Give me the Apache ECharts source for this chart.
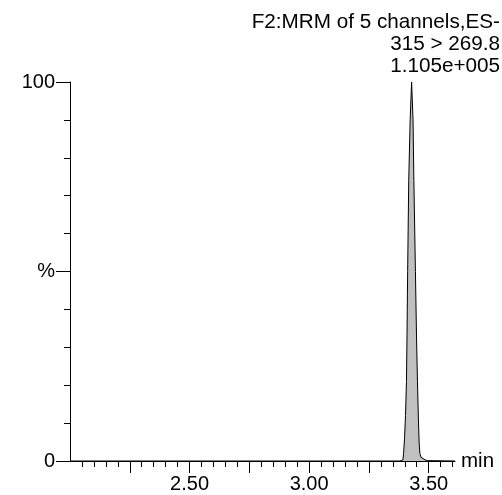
<!DOCTYPE html>
<html>
<head>
<meta charset="utf-8">
<script src="https://cdn.jsdelivr.net/npm/echarts@6/dist/echarts.min.js"></script>
<style>
html,body{margin:0;padding:0;background:#fff;}
#c{width:502px;height:495px;}
</style>
</head>
<body>
<div id="c"></div>
<script>
// Data (retention time in min, relative intensity in %)
var times = [2.00, 3.380, 3.392, 3.395, 3.399, 3.403, 3.407, 3.4095, 3.412, 3.4165, 3.4225, 3.4285, 3.4345, 3.438, 3.4445, 3.449, 3.453, 3.457, 3.460, 3.463, 3.468, 3.475, 3.485, 3.496, 3.500, 3.61];
var intensity = [0, 0, 0.3, 2, 6, 12, 21, 34, 50, 74, 90, 100, 90, 74, 50, 33, 21, 11, 5, 2, 1, 0.5, 0.3, 0.1, 0, 0];

var headerLines = ['F2:MRM of 5 channels,ES-', '315 > 269.8', '1.105e+005'];

var xMajorTicks = [2.25, 2.50, 2.75, 3.00, 3.25, 3.50];
var xLabelValues = [2.50, 3.00, 3.50];
var xMinorTicks = [2.05, 2.10, 2.15, 2.20, 2.30, 2.35, 2.40, 2.45, 2.55, 2.60, 2.65, 2.70, 2.80, 2.85, 2.90, 2.95, 3.05, 3.10, 3.15, 3.20, 3.30, 3.35, 3.40, 3.45, 3.55, 3.60];
var yMajorTicks = [0, 50, 100];
var yLabelTexts = ['0', '%', '100'];
var yMinorTicks = [10, 20, 30, 40, 60, 70, 80, 90];

var X_MIN = 2.0, X_MAX = 3.61;
var FONT = 'Liberation Sans';

var chart = echarts.init(document.getElementById('c'));
var black = '#000';

var option = {
  animation: false,
  backgroundColor: '#fff',
  grid: { left: 70, right: 47, top: 82, bottom: 34, containLabel: false, outerBoundsMode: 'none' },
  graphic: [{
    type: 'text',
    right: 2,
    top: 11,
    style: {
      text: headerLines.join('\n'),
      font: '20.7px "' + FONT + '"',
      fill: black,
      textAlign: 'right',
      lineHeight: 22.3
    }
  }],
  xAxis: [{
    type: 'value', min: X_MIN, max: X_MAX, position: 'bottom',
    name: 'min', nameLocation: 'end', nameGap: 6,
    nameTextStyle: { fontFamily: FONT, fontSize: 20.5, color: black, verticalAlign: 'middle' },
    axisLine: { show: true, lineStyle: { color: black, width: 1 } },
    axisTick: { show: true, length: 12, lineStyle: { color: black, width: 1 }, customValues: xMajorTicks },
    axisLabel: { show: true, margin: 13, fontFamily: FONT, fontSize: 20, color: black,
      customValues: xLabelValues, formatter: function (v) { return v.toFixed(2); } },
    splitLine: { show: false }
  }, {
    type: 'value', min: X_MIN, max: X_MAX, position: 'bottom', offset: 0,
    axisLine: { show: false },
    axisTick: { show: true, length: 6, lineStyle: { color: black, width: 1 }, customValues: xMinorTicks },
    axisLabel: { show: false },
    splitLine: { show: false }
  }],
  yAxis: [{
    type: 'value', min: 0, max: 100, position: 'left',
    axisLine: { show: true, lineStyle: { color: black, width: 1 } },
    axisTick: { show: true, length: 14, lineStyle: { color: black, width: 1 }, customValues: yMajorTicks },
    axisLabel: { show: true, margin: 15, fontFamily: FONT, fontSize: 20, color: black,
      customValues: yMajorTicks,
      formatter: function (v) { var i = yMajorTicks.indexOf(v); return i >= 0 ? yLabelTexts[i] : ''; } },
    splitLine: { show: false }
  }, {
    type: 'value', min: 0, max: 100, position: 'left', offset: 0,
    axisLine: { show: false },
    axisTick: { show: true, length: 6, lineStyle: { color: black, width: 1 }, customValues: yMinorTicks },
    axisLabel: { show: false },
    splitLine: { show: false }
  }],
  series: [{
    type: 'line',
    xAxisIndex: 0, yAxisIndex: 0,
    data: times.map(function (t, i) { return [t, intensity[i]]; }),
    symbol: 'none',
    smooth: false,
    lineStyle: { color: black, width: 1 },
    areaStyle: { color: '#c0c0c0', opacity: 1 },
    z: 1
  }]
};
chart.setOption(option);
</script>
</body>
</html>
